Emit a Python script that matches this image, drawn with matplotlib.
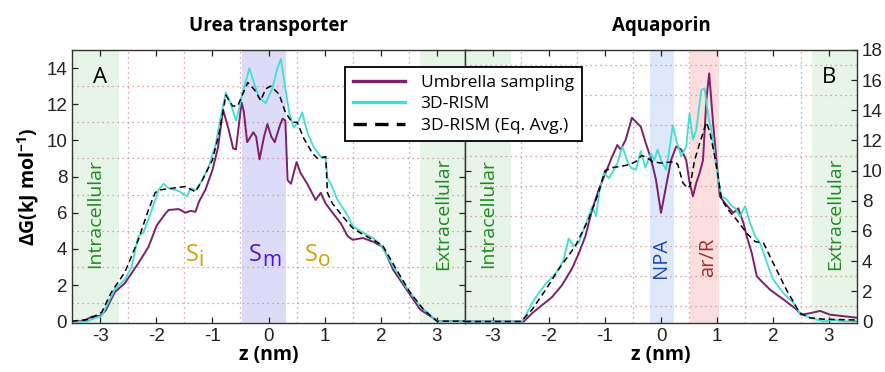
import numpy as np
import matplotlib
matplotlib.use("Agg")
import matplotlib.pyplot as plt
from matplotlib.transforms import offset_copy

plt.rcParams['font.family'] = ['Open Sans', 'DejaVu Sans']
plt.rcParams['mathtext.default'] = 'regular'
plt.rcParams['axes.unicode_minus'] = False

# ---- Urea transporter (panel A) ----
ut_us_z = [-3.5, -3.3, -3.15, -3.0, -2.9, -2.74, -2.56, -2.32, -2.14, -1.99, -1.85, -1.78, -1.6, -1.48,
           -1.39, -1.3, -1.24, -1.12, -1.0, -0.9, -0.81, -0.71, -0.63, -0.58, -0.48, -0.44, -0.38, -0.27,
           -0.22, -0.16, -0.08, -0.02, 0.05, 0.11, 0.2, 0.25, 0.3, 0.34, 0.4, 0.5, 0.57, 0.69, 0.84,
           0.93, 1.02, 1.14, 1.29, 1.41, 1.5, 1.68, 1.86, 2.04, 2.22, 2.46, 2.7, 2.97, 3.03, 3.5]
ut_us_g = [0.0, 0.0, 0.25, 0.3, 0.6, 1.6, 2.1, 3.2, 4.1, 5.3, 5.9, 6.15, 6.2, 6.0,
           6.1, 6.05, 6.6, 7.3, 8.35, 9.6, 11.7, 10.6, 9.55, 9.5, 12.1, 11.6, 9.9, 10.45,
           10.2, 8.95, 10.2, 10.9, 10.2, 9.9, 10.8, 11.2, 11.1, 7.8, 7.6, 8.8, 8.2, 7.6, 6.7,
           7.1, 6.5, 6.0, 5.4, 4.7, 4.5, 4.6, 4.4, 4.1, 2.85, 1.75, 0.65, 0.1, 0.0, 0.0]

ut_rism_z = [-3.5, -3.25, -3.15, -2.97, -2.86, -2.74, -2.56, -2.44, -2.32, -2.23, -2.08, -1.96, -1.87,
             -1.78, -1.6, -1.45, -1.39, -1.3, -1.18, -1.06, -0.94, -0.85, -0.76, -0.67, -0.58, -0.52,
             -0.46, -0.4, -0.34, -0.25, -0.17, -0.05, 0.07, 0.16, 0.22, 0.28, 0.37, 0.45, 0.54, 0.6,
             0.69, 0.81, 0.93, 1.02, 1.05, 1.11, 1.23, 1.38, 1.5, 1.68, 1.86, 1.98, 2.22, 2.46, 2.7,
             3.0, 3.5]
ut_rism_g = [0.0, -0.05, 0.1, 0.3, 1.0, 1.75, 2.3, 3.0, 4.7, 4.9, 6.15, 7.25, 7.6,
             7.35, 7.2, 6.9, 7.35, 7.25, 7.8, 8.6, 9.8, 11.3, 12.65, 12.0, 11.1, 11.8,
             12.7, 13.3, 14.0, 13.1, 12.4, 12.05, 12.9, 14.0, 14.5, 13.3, 11.5, 10.7, 11.1, 11.55,
             10.45, 9.6, 9.1, 9.0, 7.9, 7.6, 6.7, 6.0, 5.25, 4.9, 4.6, 4.3, 3.05, 1.85, 0.85,
             0.0, 0.0]

ut_avg_z = [-3.5, -3.2, -2.97, -2.8, -2.56, -2.32, -2.14, -2.02, -1.96, -1.72, -1.48, -1.3, -1.18,
            -1.0, -0.88, -0.76, -0.64, -0.55, -0.46, -0.37, -0.25, -0.14, -0.05, 0.04, 0.19, 0.3,
            0.42, 0.51, 0.63, 0.78, 0.87, 1.02, 1.05, 1.14, 1.32, 1.5, 1.68, 1.92, 2.04, 2.28, 2.52,
            2.76, 3.0, 3.5]
ut_avg_g = [0.0, 0.1, 0.5, 1.6, 2.7, 4.5, 6.15, 7.1, 7.25, 7.35, 7.45, 7.15, 7.8,
            8.9, 10.4, 12.5, 11.9, 11.9, 12.55, 13.2, 12.8, 12.2, 12.85, 13.0, 12.55, 11.55,
            11.0, 11.0, 10.1, 9.3, 9.0, 9.1, 7.1, 6.5, 5.8, 5.15, 4.8, 4.4, 4.15, 2.85, 1.6,
            0.65, 0.0, 0.0]

# ---- Aquaporin (panel B) ----
aq_us_z = [-3.5, -2.6, -2.45, -2.3, -2.12, -1.95, -1.77, -1.59, -1.47, -1.35, -1.23, -1.11, -0.99,
           -0.87, -0.78, -0.72, -0.63, -0.52, -0.45, -0.36, -0.27, -0.18, -0.09, 0.0, 0.09, 0.18,
           0.27, 0.36, 0.45, 0.51, 0.57, 0.63, 0.69, 0.75, 0.81, 0.86, 0.93, 0.99, 1.05, 1.14,
           1.29, 1.38, 1.47, 1.53, 1.62, 1.71, 1.8, 1.95, 2.19, 2.42, 2.5, 2.66, 2.84, 3.02,
           3.26, 3.5]
aq_us_g = [0.0, 0.0, 0.0, 0.55, 1.1, 1.6, 2.4, 3.5, 4.5, 5.65, 7.4, 8.75, 9.85,
           10.95, 11.7, 11.4, 12.05, 13.5, 13.25, 12.9, 11.8, 10.8, 9.4, 7.2, 8.95, 10.7,
           11.6, 11.4, 10.7, 9.2, 8.3, 9.2, 9.85, 10.7, 14.7, 16.45, 13.15, 10.7, 8.3, 7.85,
           7.2, 7.5, 6.55, 5.65, 4.55, 3.0, 2.65, 2.1, 1.45, 0.8, 0.45, 0.55, 0.7, 0.45,
           0.35, 0.25]

aq_rism_z = [-3.5, -2.5, -2.45, -2.3, -2.18, -2.06, -1.95, -1.83, -1.74, -1.65, -1.56, -1.47, -1.38,
             -1.29, -1.23, -1.16, -1.1, -1.02, -0.93, -0.85, -0.78, -0.69, -0.6, -0.54, -0.45,
             -0.36, -0.28, -0.18, -0.12, -0.06, 0.0, 0.09, 0.15, 0.21, 0.27, 0.36, 0.45, 0.51,
             0.57, 0.63, 0.72, 0.78, 0.81, 0.85, 0.9, 0.96, 1.02, 1.08, 1.17, 1.26, 1.33, 1.41,
             1.5, 1.59, 1.68, 1.77, 1.89, 2.0, 2.18, 2.36, 2.48, 2.66, 2.9, 3.1, 3.3, 3.5]
aq_rism_g = [0.0, 0.0, 0.15, 1.25, 1.9, 2.5, 2.9, 3.45, 4.1, 5.5, 5.0, 5.2, 6.1,
             7.0, 7.6, 7.0, 8.6, 9.85, 9.5, 10.0, 10.5, 11.6, 10.6, 10.2, 10.05,
             11.3, 10.2, 11.15, 10.7, 11.4, 10.7, 10.05, 11.4, 13.0, 12.05, 10.95, 11.6, 13.8,
             12.05, 12.7, 15.35, 15.45, 14.5, 13.5, 12.7, 10.95, 9.4, 8.3, 8.1, 7.65, 7.5, 6.95,
             7.65, 6.55, 5.65, 5.2, 3.9, 2.8, 1.9, 1.25, 0.55, 0.25, 0.0, 0.1, 0.0, 0.05]

aq_avg_z = [-3.5, -2.5, -2.3, -2.06, -1.83, -1.53, -1.29, -1.11, -1.0, -0.87, -0.69, -0.57, -0.45,
            -0.35, -0.27, -0.15, 0.0, 0.24, 0.3, 0.39, 0.47, 0.52, 0.6, 0.69, 0.81, 0.87, 0.96,
            1.02, 1.08, 1.2, 1.35, 1.53, 1.68, 1.83, 2.0, 2.24, 2.48, 2.66, 2.9, 3.5]
aq_avg_g = [0.0, 0.0, 0.8, 2.1, 3.45, 5.0, 6.8, 8.6, 10.0, 10.2, 10.3, 10.4, 10.6,
            11.0, 10.9, 10.6, 10.5, 10.6, 10.4, 9.2, 8.85, 9.0, 10.7, 11.8, 13.2, 12.6, 10.95,
            9.6, 8.1, 7.4, 6.75, 5.85, 5.3, 5.2, 3.9, 2.1, 0.55, 0.25, 0.15, 0.1]

c_us = '#7d1f6a'
c_rism = '#40dfd6'
c_grid = '#d08a8a'

fig = plt.figure(figsize=(8.85, 3.72), dpi=100)
axA = fig.add_axes([0.0814, 0.1317, 0.444, 0.734])
axB = fig.add_axes([0.5254, 0.1317, 0.443, 0.734])


def style_axis(ax, ylim, yticks, yminor):
    ax.set_xlim(-3.5, 3.5)
    ax.set_ylim(*ylim)
    ax.set_xticks(range(-3, 4))
    ax.set_xticks(np.arange(-2.5, 3.0, 1.0), minor=True)
    ax.set_yticks(yticks)
    ax.set_yticks(yminor, minor=True)
    ax.grid(which='minor', color=c_grid, linestyle=(0, (1, 3)), linewidth=0.9)
    ax.tick_params(which='major', direction='in', top=True, right=True, length=4,
                   labelsize=13.5, colors='#222222', width=0.9)
    ax.tick_params(which='minor', length=0)
    for lab in ax.get_xticklabels() + ax.get_yticklabels():
        lab.set_family(['Liberation Sans', 'DejaVu Sans'])
    for s in ax.spines.values():
        s.set_color('#333333')
        s.set_linewidth(1.0)
    ax.set_xlabel('z (nm)', fontsize=14, fontweight='bold', labelpad=0)


style_axis(axA, (-0.1, 15), range(0, 15, 2), range(1, 15, 2))
style_axis(axB, (-0.1, 18), range(0, 19, 2), range(1, 18, 2))
axB.yaxis.tick_right()
axB.tick_params(which='major', left=True, right=True, labelleft=False, labelright=True)
for lab in axB.get_yticklabels():
    lab.set_family(['Liberation Sans', 'DejaVu Sans'])

# shaded regions
green = '#e6f5e8'
for ax in (axA, axB):
    ax.axvspan(-3.5, -2.67, color=green, zorder=0, lw=0)
    ax.axvspan(2.7, 3.5, color=green, zorder=0, lw=0)
axA.axvspan(-0.47, 0.31, color='#dcdcf8', zorder=0, lw=0)
axB.axvspan(-0.2, 0.24, color='#dde8fa', zorder=0, lw=0)
axB.axvspan(0.52, 1.03, color='#fbdede', zorder=0, lw=0)

# curves
for ax, us, rism, avg in ((axA, (ut_us_z, ut_us_g), (ut_rism_z, ut_rism_g), (ut_avg_z, ut_avg_g)),
                          (axB, (aq_us_z, aq_us_g), (aq_rism_z, aq_rism_g), (aq_avg_z, aq_avg_g))):
    l1, = ax.plot(*us, color=c_us, lw=1.4, label='Umbrella sampling', zorder=3)
    l2, = ax.plot(*rism, color=c_rism, lw=1.3, label='3D-RISM', zorder=3)
    l3, = ax.plot(*avg, color='black', lw=1.1, ls=(0, (4, 2.5)), label='3D-RISM (Eq. Avg.)', zorder=4)

# text annotations
txA = axA.get_xaxis_transform()
txB = axB.get_xaxis_transform()
gcol = '#1f8a1f'
for ax, tr in ((axA, txA), (axB, txB)):
    ax.text(-3.08, 0.40, 'Intracellular', transform=tr, rotation=90, color=gcol,
            fontsize=14, ha='center', va='center')
    ax.text(3.11, 0.40, 'Extracellular', transform=tr, rotation=90, color=gcol,
            fontsize=14, ha='center', va='center')

# site labels S_i, S_m, S_o drawn as letter + larger subscript
site_x = [-1.2, -0.07, 0.93]
site_sub = ['i', 'm', 'o']
site_col = ['#d4a000', '#5511dd', '#d4a000']
for x, sub, col in zip(site_x, site_sub, site_col):
    axA.text(x, 0.25, 'S', transform=offset_copy(txA, fig=fig, x=-2, y=0, units='points'),
             color=col, fontsize=17, ha='right', va='center')
    axA.text(x, 0.25, sub, transform=offset_copy(txA, fig=fig, x=-2, y=-4, units='points'),
             color=col, fontsize=15, ha='left', va='center')

axB.text(0.0, 0.24, 'NPA', transform=txB, rotation=90, color='#1a4aaa', fontsize=14.5,
         ha='center', va='center')
axB.text(0.84, 0.24, 'ar/R', transform=txB, rotation=90, color='#a52a2a', fontsize=14.5,
         ha='center', va='center')
axA.text(-3.0, 0.90, 'A', transform=txA, fontsize=16, ha='center', va='center')
axB.text(3.0, 0.90, 'B', transform=txB, fontsize=16, ha='center', va='center')

axA.set_title('Urea transporter', fontsize=13.5, fontweight='bold', pad=14)
axB.set_title('Aquaporin', fontsize=13.5, fontweight='bold', pad=14)
axA.set_ylabel(r'ΔG(kJ mol$^{-1}$)', fontsize=14, fontweight='bold', labelpad=4)

leg = fig.legend(handles=[l1, l2, l3], loc='upper left', bbox_to_anchor=(0.390, 0.820),
                 borderaxespad=0, fancybox=False, framealpha=1, edgecolor='black',
                 fontsize=12.5, handlelength=3.0, borderpad=0.45, labelspacing=0.3,
                 handletextpad=0.9)
leg.get_frame().set_linewidth(1.3)
for h in leg.legend_handles:
    h.set_linewidth(2.4)

fig.savefig('out.png', dpi=100)
